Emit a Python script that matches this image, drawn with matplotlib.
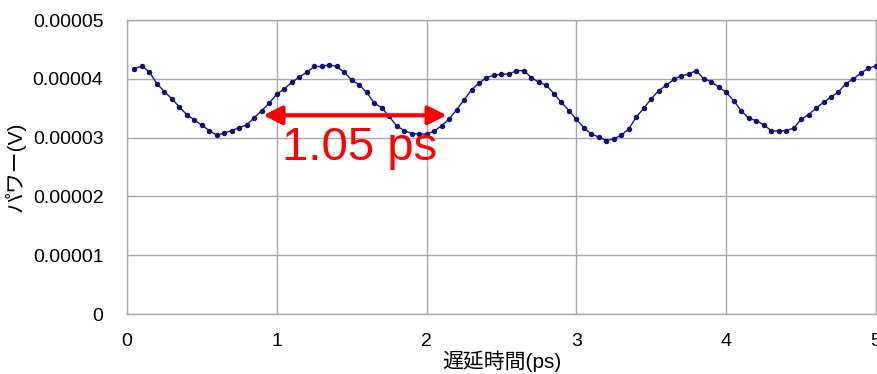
import numpy as np
import matplotlib
matplotlib.use("Agg")
import matplotlib.pyplot as plt
from matplotlib.ticker import FuncFormatter

plt.rcParams['font.family'] = ['Liberation Sans', 'Noto Sans CJK JP', 'DejaVu Sans']

# delay time (ps), one point every 0.05 ps
delay = np.round(np.arange(1, 101) * 0.05, 2)

# power (x 1e-5 V)
power_e5 = [
    4.17, 4.22, 4.11, 3.92, 3.78, 3.66, 3.52, 3.39, 3.30, 3.21,
    3.12, 3.04, 3.08, 3.12, 3.17, 3.22, 3.34, 3.46, 3.59, 3.74,
    3.83, 3.94, 4.03, 4.11, 4.21, 4.21, 4.24, 4.21, 4.11, 3.98,
    3.90, 3.77, 3.59, 3.51, 3.36, 3.20, 3.12, 3.07, 3.06, 3.06,
    3.11, 3.20, 3.32, 3.47, 3.64, 3.81, 3.93, 4.02, 4.06, 4.08,
    4.08, 4.14, 4.14, 4.02, 3.94, 3.89, 3.75, 3.60, 3.46, 3.31,
    3.17, 3.06, 3.01, 2.95, 2.98, 3.04, 3.15, 3.35, 3.50, 3.66,
    3.80, 3.89, 3.99, 4.05, 4.08, 4.14, 4.00, 3.95, 3.86, 3.77,
    3.63, 3.46, 3.33, 3.29, 3.22, 3.12, 3.11, 3.12, 3.16, 3.31,
    3.39, 3.50, 3.60, 3.69, 3.78, 3.92, 4.00, 4.10, 4.18, 4.22,
]
power = np.array(power_e5) * 1e-5

# period annotation
arrow_x = (0.91, 2.135)
arrow_y = 3.38e-5
period_label = "1.05 ps"

fig = plt.figure(figsize=(8.77, 3.74), dpi=100)
ax = fig.add_axes([0.1448, 0.1604, 0.854, 0.786])

ax.plot(delay, power, color='#1a1a80', lw=1.0, marker='o', ms=2.9,
        mec='#10107a', mfc='#10107a', zorder=3)

ax.set_xlim(0, 5)
ax.set_ylim(0, 5e-5)
ax.set_xticks(np.arange(0, 6, 1))
ax.set_yticks(np.arange(0, 6) * 1e-5)
ax.yaxis.set_major_formatter(FuncFormatter(lambda v, p: "0" if v == 0 else f"{v:.5f}"))
ax.grid(True, color='#a8a8a8', lw=1.0)
ax.set_axisbelow(True)
for s in ax.spines.values():
    s.set_color('#a8a8a8')
    s.set_linewidth(1.0)
ax.tick_params(length=0, labelsize=14, colors='black')
ax.tick_params(axis='y', pad=17)
ax.tick_params(axis='x', pad=14)

ax.set_xlabel("遅延時間(ps)", fontsize=15, va='center')
ax.set_ylabel("パワー(V)", fontsize=15)
ax.xaxis.set_label_coords(0.5, -0.16)
ax.yaxis.set_label_coords(-0.135, 0.5)

ax.annotate('', xy=(arrow_x[0], arrow_y), xytext=(arrow_x[1], arrow_y),
            arrowprops=dict(arrowstyle='<|-|>', color='#ff0000', lw=3,
                            mutation_scale=28, shrinkA=0, shrinkB=0), zorder=4)
ax.text(1.035, 2.62e-5, period_label, color='#ff0000', fontsize=34,
        va='baseline', ha='left', zorder=4)

fig.savefig('out.png', dpi=100)
